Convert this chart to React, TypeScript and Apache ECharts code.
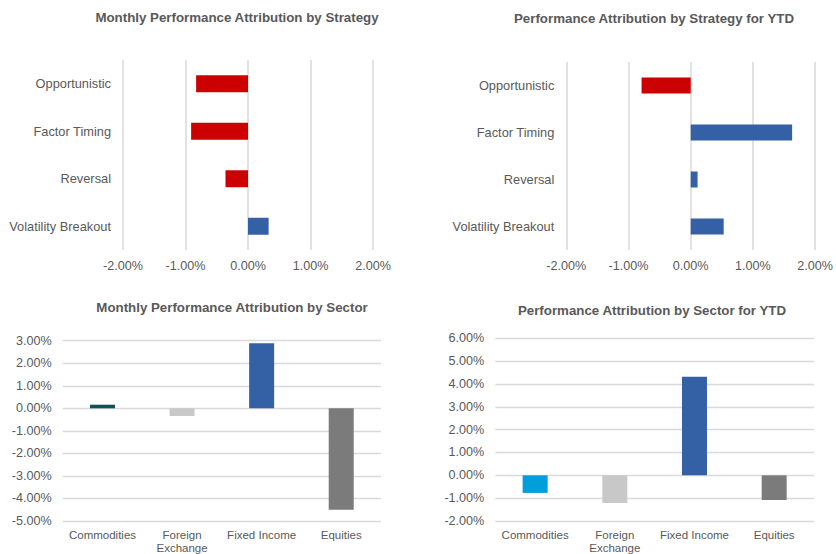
import React, { useEffect, useRef } from "react";
import * as echarts from "echarts";

const strategies = ["Opportunistic", "Factor Timing", "Reversal", "Volatility Breakout"];
const monthlyStrategy = [-0.83, -0.91, -0.36, 0.33];
const ytdStrategy = [-0.79, 1.63, 0.11, 0.53];

const sectors = ["Commodities", "Foreign\nExchange", "Fixed Income", "Equities"];
const monthlySector = [0.16, -0.34, 2.89, -4.5];
const ytdSector = [-0.77, -1.21, 4.32, -1.08];

const titles = [
  "Monthly Performance Attribution by Strategy",
  "Performance Attribution by Strategy for YTD",
  "Monthly Performance Attribution by Sector",
  "Performance Attribution by Sector for YTD",
];

const NEG = "#CC0000";
const POS = "#3461A5";
const monthlySectorColors = ["#0D5257", "#C8C8C8", "#3461A5", "#7B7B7B"];
const ytdSectorColors = ["#009FDB", "#C8C8C8", "#3461A5", "#7B7B7B"];

const TEXT = "#595959";
const GRIDC = "#D9D9D9";
const FONT = "'Liberation Sans', Arial, sans-serif";
const pct = (v: number) => v.toFixed(2) + "%";

export default function App() {
  const ref = useRef<HTMLDivElement>(null);
  useEffect(() => {
    if (!ref.current) return;
    const chart = echarts.init(ref.current, null, { renderer: "svg" });
    const titleStyle = { color: TEXT, fontSize: 13.3, fontWeight: "bold" as const, fontFamily: FONT };
    const valueX = (gridIndex: number) => ({
      type: "value",
      gridIndex,
      min: -2,
      max: 2,
      interval: 1,
      axisLine: { show: false },
      axisTick: { show: false },
      splitLine: { show: true, lineStyle: { color: GRIDC, width: 1.5 } },
      axisLabel: { formatter: pct, color: TEXT, fontSize: 12.6, fontFamily: FONT, margin: 9 },
    });
    const catY = (gridIndex: number) => ({
      type: "category",
      gridIndex,
      data: strategies,
      inverse: true,
      axisLine: { show: false },
      axisTick: { show: false },
      splitLine: { show: false },
      axisLabel: { color: TEXT, fontSize: 12.8, fontFamily: FONT, margin: 12 },
    });
    const catX = (gridIndex: number) => ({
      type: "category",
      gridIndex,
      data: sectors,
      axisLine: { show: false, onZero: false },
      axisTick: { show: false },
      splitLine: { show: false },
      axisLabel: { color: TEXT, fontSize: 11.5, fontFamily: FONT, margin: 8, lineHeight: 12.5, interval: 0 },
    });
    const valueY = (gridIndex: number, min: number, max: number) => ({
      type: "value",
      gridIndex,
      min,
      max,
      interval: 1,
      axisLine: { show: false },
      axisTick: { show: false },
      splitLine: { show: true, lineStyle: { color: GRIDC, width: 1.3 } },
      axisLabel: { formatter: pct, color: TEXT, fontSize: 12.6, fontFamily: FONT, margin: 11 },
    });
    chart.setOption({
      animation: false,
      backgroundColor: "#ffffff",
      title: [
        { text: titles[0], left: 232, top: 6, textAlign: "center", textStyle: titleStyle },
        { text: titles[1], left: 649, top: 7, textAlign: "center", textStyle: titleStyle },
        { text: titles[2], left: 227, top: 296, textAlign: "center", textStyle: titleStyle },
        { text: titles[3], left: 647, top: 299, textAlign: "center", textStyle: titleStyle },
      ],
      grid: [
        { left: 123, top: 60, width: 250, height: 190 },
        { left: 566.3, top: 62, width: 251, height: 188 },
        { left: 62.7, top: 340.7, width: 318.3, height: 182.6 },
        { left: 495.3, top: 338.3, width: 318.7, height: 183.4 },
      ],
      xAxis: [valueX(0), valueX(1), catX(2), catX(3)],
      yAxis: [catY(0), catY(1), valueY(2, -5, 3), valueY(3, -2, 6)],
      series: [
        {
          type: "bar",
          xAxisIndex: 0,
          yAxisIndex: 0,
          data: monthlyStrategy,
          barWidth: 17,
          itemStyle: { color: (p: any) => (p.value < 0 ? NEG : POS) },
        },
        {
          type: "bar",
          xAxisIndex: 1,
          yAxisIndex: 1,
          data: ytdStrategy,
          barWidth: 16,
          itemStyle: { color: (p: any) => (p.value < 0 ? NEG : POS) },
        },
        {
          type: "bar",
          xAxisIndex: 2,
          yAxisIndex: 2,
          data: monthlySector,
          barWidth: 25,
          itemStyle: { color: (p: any) => monthlySectorColors[p.dataIndex] },
        },
        {
          type: "bar",
          xAxisIndex: 3,
          yAxisIndex: 3,
          data: ytdSector,
          barWidth: 25,
          itemStyle: { color: (p: any) => ytdSectorColors[p.dataIndex] },
        },
      ],
    });
    return () => chart.dispose();
  }, []);
  return (
    <div
      ref={ref}
      style={{ position: "fixed", left: 0, top: 0, width: 836, height: 554, background: "#fff" }}
    />
  );
}
